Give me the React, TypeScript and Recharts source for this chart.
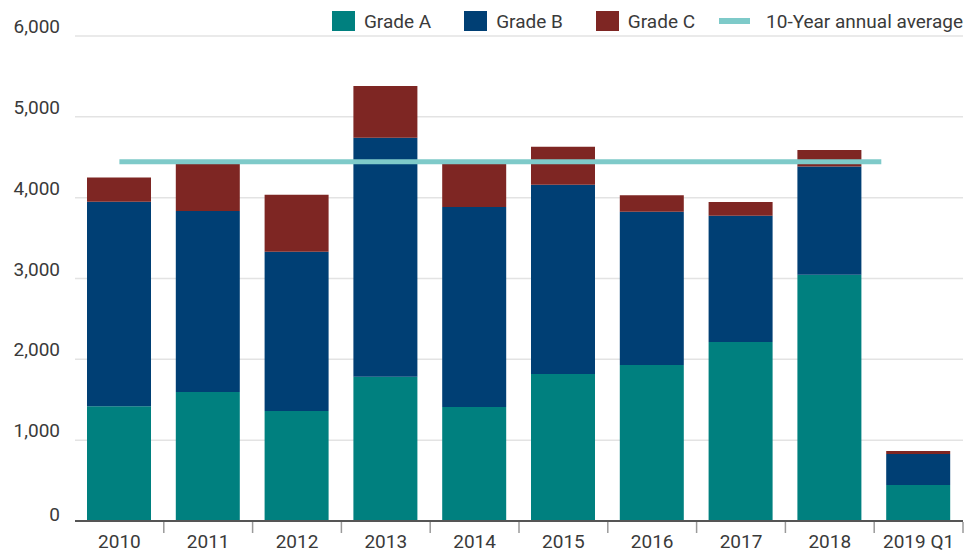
import React from 'react';
import { BarChart, Bar, XAxis, YAxis, CartesianGrid, ReferenceLine, Legend } from 'recharts';

const years = ['2010', '2011', '2012', '2013', '2014', '2015', '2016', '2017', '2018', '2019 Q1'];
const gradeA = [1420, 1595, 1360, 1785, 1410, 1820, 1930, 2215, 3045, 445];
const gradeB = [2530, 2240, 1970, 2955, 2475, 2340, 1895, 1560, 1340, 385];
const gradeC = [300, 580, 705, 640, 540, 470, 205, 170, 205, 35];
const avgValue = 4445;
const avgFrom = 0;
const avgTo = 8.58;
const yTicks = [0, 1000, 2000, 3000, 4000, 5000, 6000];

const seriesNames = ['Grade A', 'Grade B', 'Grade C'];
const seriesColors = ['#00807f', '#003f74', '#7e2623'];
const avgName = '10-Year annual average';
const avgColor = '#7ecac9';

const data = years.map((year, i) => ({ year, idx: i, a: gradeA[i], b: gradeB[i], c: gradeC[i] }));

const FONT = 'Roboto, sans-serif';
const TEXT = '#3a3a3a';

const XTick = (props: any) => {
  const { x, y, payload } = props;
  const half = payload && typeof payload.offset === 'number' ? payload.offset : 0;
  return (
    <g>
      {half > 0 && <line x1={x + half} x2={x + half} y1={y + 1} y2={y + 12} stroke="#9a9a9a" strokeWidth={1.5} />}
      <text x={x} y={y} dy={27} textAnchor="middle" fill={TEXT} fontSize={19} fontFamily={FONT}>
        {payload.value}
      </text>
    </g>
  );
};

const YTick = (props: any) => {
  const { x, y, payload } = props;
  const v = payload.value;
  return (
    <text x={x} y={y} dy={v === 0 ? 0 : -3} textAnchor="end" fill={TEXT} fontSize={19} fontFamily={FONT}>
      {v.toLocaleString('en-US')}
    </text>
  );
};

const LegendContent = () => (
  <div
    style={{
      display: 'flex',
      alignItems: 'center',
      justifyContent: 'flex-end',
      width: '100%',
      height: 26,
      fontSize: 19,
      fontFamily: FONT,
      color: TEXT,
      whiteSpace: 'nowrap',
    }}
  >
    {seriesNames.map((n, i) => (
      <div key={n} style={{ display: 'flex', alignItems: 'center', marginRight: i === 2 ? 24 : 33 }}>
        <div style={{ width: 23, height: 20, background: seriesColors[i], marginRight: 9 }} />
        <span>{n}</span>
      </div>
    ))}
    <div style={{ display: 'flex', alignItems: 'center' }}>
      <div style={{ width: 31, height: 6, background: avgColor, marginRight: 16 }} />
      <span>{avgName}</span>
    </div>
  </div>
);

export default function App() {
  return (
    <div style={{ position: 'absolute', left: 0, top: 0, width: 964, height: 552, background: '#fff' }}>
      <BarChart width={964} height={552} data={data} margin={{ top: 10, right: 1, bottom: 0, left: 0 }}>
        <CartesianGrid vertical={false} stroke="#e3e3e3" strokeWidth={1.5} />
        <XAxis
          dataKey="year"
          type="category"
          interval={0}
          height={31}
          tickSize={0}
          tickMargin={0}
          tickLine={false}
          axisLine={{ stroke: '#555', strokeWidth: 2 }}
          tick={XTick}
        />
        <XAxis
          xAxisId="num"
          dataKey="idx"
          type="number"
          domain={[-0.5, 9.5]}
          allowDataOverflow
          hide
        />
        <YAxis
          domain={[0, 6000]}
          ticks={yTicks}
          width={75}
          axisLine={false}
          tickLine={false}
          tickSize={0}
          tickMargin={15}
          tick={YTick}
        />
        <Legend
          verticalAlign="top"
          align="right"
          content={LegendContent}
          wrapperStyle={{ top: 8, height: 26 }}
        />
        <Bar dataKey="a" stackId="s" fill={seriesColors[0]} barSize={64} isAnimationActive={false} />
        <Bar dataKey="b" stackId="s" fill={seriesColors[1]} barSize={64} isAnimationActive={false} />
        <Bar dataKey="c" stackId="s" fill={seriesColors[2]} barSize={64} isAnimationActive={false} />
        <ReferenceLine
          xAxisId="num"
          segment={[
            { x: avgFrom, y: avgValue },
            { x: avgTo, y: avgValue },
          ]}
          stroke={avgColor}
          strokeWidth={5}
          ifOverflow="visible"
        />
      </BarChart>
    </div>
  );
}
